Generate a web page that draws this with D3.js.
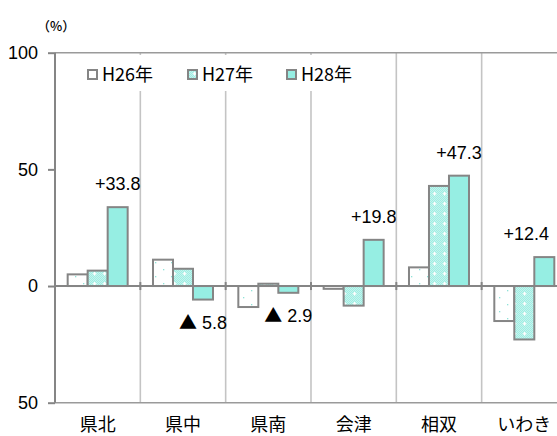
<!DOCTYPE html>
<html><head><meta charset="utf-8">
<script src="https://cdn.jsdelivr.net/npm/d3@7"></script>
<style>
html,body{margin:0;padding:0;background:#fff;}
svg{display:block;}
</style></head>
<body>
<svg id="c" width="557" height="436"></svg>
<script>
const categories = ["県北","県中","県南","会津","相双","いわき"];
const seriesNames = ["H26年","H27年","H28年"];
const h26 = [5.0, 11.3, -9.0, -1.2, 8.0, -15.0];
const h27 = [6.6, 7.4, 1.0, -8.4, 42.9, -22.9];
const h28 = [33.8, -5.8, -2.9, 19.8, 47.3, 12.4];
const annotations = ["+33.8","▲ 5.8","▲ 2.9","+19.8","+47.3","+12.4"];
const yTicks = [100, 50, 0, -50];
const yTickLabels = ["100","50","0","50"];

const svg = d3.select("#c");
const W = 557, H = 436;
const plotLeft = 55, plotTop = 52.7, plotBottom = 402.7;
const catW = 85.33;
const x = d3.scaleBand().domain(categories).range([plotLeft, plotLeft + catW*categories.length]).padding(0);
const groupPad = x.bandwidth()*(1 - 60/85.33)/2;
const xs = d3.scaleBand().domain(seriesNames).range([groupPad, x.bandwidth()-groupPad]).padding(0);
const y = d3.scaleLinear().domain([-50, 100]).range([plotBottom, plotTop]);

const defs = svg.append("defs");
const p1 = defs.append("pattern").attr("id","p26").attr("patternUnits","userSpaceOnUse").attr("width",16).attr("height",14);
p1.append("rect").attr("width",16).attr("height",14).attr("fill","#fff");
p1.append("rect").attr("x",3).attr("y",3).attr("width",1.3).attr("height",1.3).attr("fill","#8fe3d8");
p1.append("rect").attr("x",11).attr("y",10).attr("width",1.3).attr("height",1.3).attr("fill","#8fe3d8");
const p2 = defs.append("pattern").attr("id","p27").attr("patternUnits","userSpaceOnUse").attr("width",10).attr("height",10);
p2.append("rect").attr("width",10).attr("height",10).attr("fill","#c6f3ed");
for (let i=0;i<10;i++) for (let j=0;j<10;j++) if ((i+j)%2===0) p2.append("rect").attr("x",i).attr("y",j).attr("width",1).attr("height",1).attr("fill","#9deee3");
p2.append("rect").attr("x",4).attr("y",2).attr("width",1.2).attr("height",3.6).attr("fill","#fff");
p2.append("rect").attr("x",2.8).attr("y",3.2).attr("width",3.6).attr("height",1.2).attr("fill","#fff");
const fills = ["url(#p26)","url(#p27)","#96eee3"];
const values = [h26, h27, h28];

const bounds = categories.map(c => x(c)).concat([x(categories[categories.length-1]) + x.bandwidth()]);
svg.append("g").selectAll("line").data(bounds.slice(1)).join("line")
  .attr("x1", d=>d).attr("x2", d=>d).attr("y1", plotTop).attr("y2", plotBottom)
  .attr("stroke","#c4c4c4").attr("stroke-width",1.6);

svg.append("line").attr("x1",plotLeft).attr("x2",W).attr("y1",plotTop).attr("y2",plotTop).attr("stroke","#9a9a9a").attr("stroke-width",1.6);
svg.append("line").attr("x1",plotLeft).attr("x2",W).attr("y1",plotBottom).attr("y2",plotBottom).attr("stroke","#9a9a9a").attr("stroke-width",1.6);

const g = svg.append("g");
seriesNames.forEach((s, si) => {
  g.append("g").selectAll("rect").data(categories).join("rect")
    .attr("x", (c) => x(c) + xs(s))
    .attr("width", xs.bandwidth())
    .attr("y", (c,i) => y(Math.max(0, values[si][i])))
    .attr("height", (c,i) => Math.abs(y(values[si][i]) - y(0)))
    .attr("fill", fills[si])
    .attr("stroke","#858585").attr("stroke-width",2);
});

svg.append("line").attr("x1",plotLeft).attr("x2",W).attr("y1",y(0)).attr("y2",y(0)).attr("stroke","#858585").attr("stroke-width",2);
svg.append("g").selectAll("line").data(bounds.slice(1)).join("line")
  .attr("x1",d=>d).attr("x2",d=>d).attr("y1",y(0)-4).attr("y2",y(0)+4)
  .attr("stroke","#858585").attr("stroke-width",2);

const yAxis = d3.axisLeft(y).tickValues(yTicks).tickFormat((d,i)=>yTickLabels[i]).tickSize(7).tickPadding(10);
const ya = svg.append("g").attr("transform",`translate(${plotLeft},0)`).call(yAxis);
ya.select(".domain").attr("stroke","#858585").attr("stroke-width",2).attr("d",`M0,${plotTop}V${plotBottom}`);
ya.selectAll(".tick line").attr("stroke","#858585").attr("stroke-width",2);
ya.selectAll(".tick text").attr("font-family","'Liberation Sans', Arial, sans-serif").attr("font-size",18).attr("fill","#000");

svg.append("text").attr("x",37).attr("y",31).text("（%）")
  .attr("font-family","'Noto Sans CJK JP', sans-serif").attr("font-size",13).attr("font-weight",500).attr("fill","#000");

svg.append("g").selectAll("text").data(categories).join("text")
  .attr("x", c => x(c) + x.bandwidth()/2).attr("y", 431)
  .attr("text-anchor","middle").text(c=>c)
  .attr("font-family","'Noto Sans CJK JP', sans-serif").attr("font-size",18).attr("fill","#000");

const lg = svg.append("g");
lg.append("rect").attr("x",78).attr("y",55).attr("width",290).attr("height",36).attr("fill","#fff");
const legX = [88, 188, 287];
seriesNames.forEach((s, i) => {
  lg.append("rect").attr("x",legX[i]).attr("y",70).attr("width",9).attr("height",9)
    .attr("fill", fills[i]).attr("stroke","#858585").attr("stroke-width",2);
  lg.append("text").attr("x",legX[i]+14).attr("y",81).text(s)
    .attr("font-family","'Noto Sans CJK JP', sans-serif").attr("font-size",18).attr("fill","#000");
});

const ag = svg.append("g");
categories.forEach((c, i) => {
  const v = h28[i];
  let cx = x(c) + xs("H28年") + xs.bandwidth()/2;
  const label = annotations[i];
  const t = ag.append("text")
    .attr("font-family","'Liberation Sans', Arial, sans-serif").attr("font-size",18).attr("fill","#000")
    .attr("text-anchor","middle");
  if (label.startsWith("▲")) {
    t.append("tspan").attr("font-family","'Noto Sans CJK JP', sans-serif").attr("font-size",18).text("▲");
    t.append("tspan").text(label.slice(1));
  } else {
    t.text(label);
  }
  const w = t.node().getComputedTextLength();
  if (cx + w/2 > W - 8) cx = W - 8 - w/2;
  t.attr("x", cx).attr("y", v >= 0 ? y(v) - 17 : y(v) + 29);
});
</script>
</body></html>
